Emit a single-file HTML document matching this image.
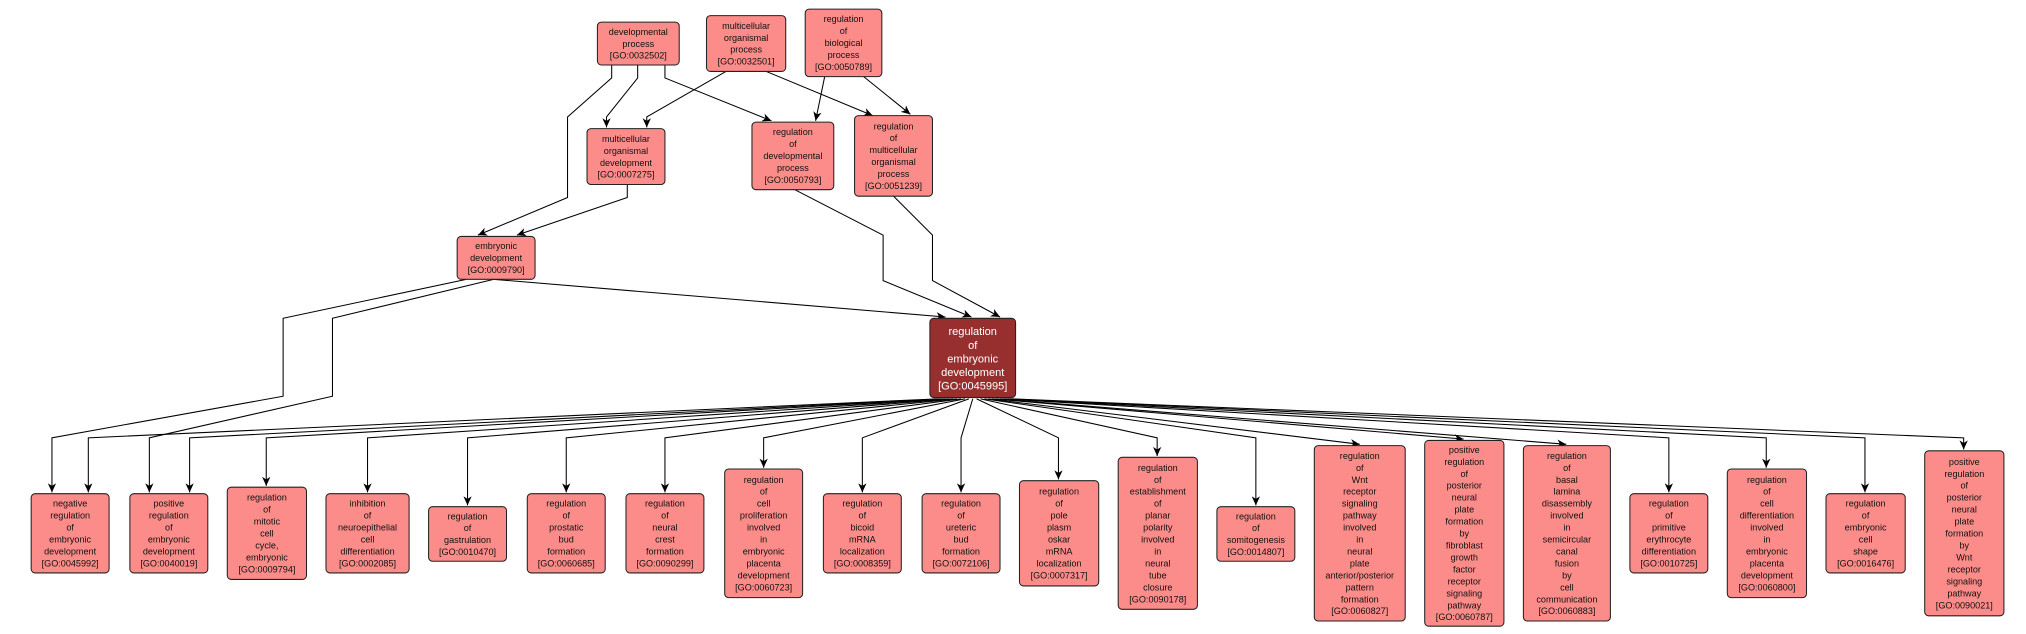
<!DOCTYPE html>
<html><head><meta charset="utf-8"><style>
html,body{margin:0;padding:0;background:#fff;}
svg{display:block;}
text{font-family:"Liberation Sans",sans-serif;font-size:7px;fill:#111;text-anchor:middle;}
.n{fill:#fb8c89;stroke:#222;stroke-width:0.8;}
.m{fill:#972f2f;stroke:#222;stroke-width:0.8;}
.e{fill:none;stroke:#000;stroke-width:0.8;marker-end:url(#a);}
</style></head><body>
<svg width="2026" height="634" viewBox="0 0 1560 488" preserveAspectRatio="none" xmlns="http://www.w3.org/2000/svg">
<defs><marker id="a" markerUnits="userSpaceOnUse" markerWidth="8" markerHeight="8" refX="7" refY="4" orient="auto"><path d="M0,0.8 L7,4 L0,7.2 L2,4 Z" fill="#000"/></marker></defs>

<!-- top edges -->
<path class="e" d="M471,50 L471,60 L437,90 L437,152 L368,181"/>
<path class="e" d="M491,50 L491,60 L467,90 L467,98"/>
<path class="e" d="M512,50 L512,60 L594,93"/>
<path class="e" d="M559,55 L498,90 L498,98"/>
<path class="e" d="M590,55 L672,89"/>
<path class="e" d="M635,59 L628,93"/>
<path class="e" d="M665,59 L701,88"/>
<path class="e" d="M483,142 L483,152 L398,181"/>
<path class="e" d="M612,146 L680,181 L680,216 L748,244"/>
<path class="e" d="M688,151 L718,181 L718,216 L770,244"/>
<path class="e" d="M380,215 L728,244"/>
<path class="e" d="M359,215 L218,245 L218,305 L40,337 L40,379"/>
<path class="e" d="M380,215 L256,245 L256,305 L115,337 L115,379"/>

<!-- main to bottom edges -->
<path class="e" d="M722,307 L68,337 L68,379"/>
<path class="e" d="M725,307 L146,337 L146,379"/>
<path class="e" d="M728,307 L205,337 L205,374"/>
<path class="e" d="M731,307 L283,337 L283,379"/>
<path class="e" d="M734,307 L360,337 L360,389"/>
<path class="e" d="M737,307 L436,337 L436,379"/>
<path class="e" d="M740,307 L512,337 L512,379"/>
<path class="e" d="M743,307 L588,337 L588,360"/>
<path class="e" d="M746,307 L664,337 L664,379"/>
<path class="e" d="M749,307 L740,337 L740,379"/>
<path class="e" d="M752,307 L815,337 L815,369"/>
<path class="e" d="M755,307 L891,337 L891,351"/>
<path class="e" d="M758,307 L967,337 L967,389"/>
<path class="e" d="M761,307 L1047,342"/>
<path class="e" d="M764,307 L1127,338"/>
<path class="e" d="M767,307 L1206,342"/>
<path class="e" d="M770,307 L1285,337 L1285,379"/>
<path class="e" d="M773,307 L1360,337 L1360,360"/>
<path class="e" d="M776,307 L1436,337 L1436,379"/>
<path class="e" d="M779,307 L1512,337 L1512,346"/>

<!-- top nodes -->
<rect class="n" x="460" y="17" width="63" height="33" rx="3"/>
<text y="26.8"><tspan x="491.5">developmental</tspan><tspan x="491.5" dy="9.2">process</tspan><tspan x="491.5" dy="9.2">[GO:0032502]</tspan></text>
<rect class="n" x="544" y="12" width="61" height="43" rx="3"/>
<text y="22.2"><tspan x="574.5">multicellular</tspan><tspan x="574.5" dy="9.2">organismal</tspan><tspan x="574.5" dy="9.2">process</tspan><tspan x="574.5" dy="9.2">[GO:0032501]</tspan></text>
<rect class="n" x="620" y="7" width="59" height="52" rx="3"/>
<text y="17.1"><tspan x="649.5">regulation</tspan><tspan x="649.5" dy="9.2">of</tspan><tspan x="649.5" dy="9.2">biological</tspan><tspan x="649.5" dy="9.2">process</tspan><tspan x="649.5" dy="9.2">[GO:0050789]</tspan></text>
<rect class="n" x="452" y="99" width="60" height="43" rx="3"/>
<text y="109.2"><tspan x="482">multicellular</tspan><tspan x="482" dy="9.2">organismal</tspan><tspan x="482" dy="9.2">development</tspan><tspan x="482" dy="9.2">[GO:0007275]</tspan></text>
<rect class="n" x="579" y="94" width="63" height="52" rx="3"/>
<text y="104.1"><tspan x="610.5">regulation</tspan><tspan x="610.5" dy="9.2">of</tspan><tspan x="610.5" dy="9.2">developmental</tspan><tspan x="610.5" dy="9.2">process</tspan><tspan x="610.5" dy="9.2">[GO:0050793]</tspan></text>
<rect class="n" x="658" y="89" width="60" height="62" rx="3"/>
<text y="99.5"><tspan x="688">regulation</tspan><tspan x="688" dy="9.2">of</tspan><tspan x="688" dy="9.2">multicellular</tspan><tspan x="688" dy="9.2">organismal</tspan><tspan x="688" dy="9.2">process</tspan><tspan x="688" dy="9.2">[GO:0051239]</tspan></text>
<rect class="n" x="352" y="182" width="60" height="33" rx="3"/>
<text y="191.8"><tspan x="382">embryonic</tspan><tspan x="382" dy="9.2">development</tspan><tspan x="382" dy="9.2">[GO:0009790]</tspan></text>
<rect class="m" x="716" y="245" width="66" height="61" rx="3"/>
<text y="258" style="font-size:8.5px;fill:#fff"><tspan x="749">regulation</tspan><tspan x="749" dy="10.5">of</tspan><tspan x="749" dy="10.5">embryonic</tspan><tspan x="749" dy="10.5">development</tspan><tspan x="749" dy="10.5">[GO:0045995]</tspan></text>

<!-- bottom nodes -->
<rect class="n" x="24" y="380" width="60" height="61" rx="3"/>
<text y="390"><tspan x="54">negative</tspan><tspan x="54" dy="9.2">regulation</tspan><tspan x="54" dy="9.2">of</tspan><tspan x="54" dy="9.2">embryonic</tspan><tspan x="54" dy="9.2">development</tspan><tspan x="54" dy="9.2">[GO:0045992]</tspan></text>
<rect class="n" x="100" y="380" width="60" height="61" rx="3"/>
<text y="390"><tspan x="130">positive</tspan><tspan x="130" dy="9.2">regulation</tspan><tspan x="130" dy="9.2">of</tspan><tspan x="130" dy="9.2">embryonic</tspan><tspan x="130" dy="9.2">development</tspan><tspan x="130" dy="9.2">[GO:0040019]</tspan></text>
<rect class="n" x="175" y="375" width="61" height="71" rx="3"/>
<text y="385.4"><tspan x="205.5">regulation</tspan><tspan x="205.5" dy="9.2">of</tspan><tspan x="205.5" dy="9.2">mitotic</tspan><tspan x="205.5" dy="9.2">cell</tspan><tspan x="205.5" dy="9.2">cycle,</tspan><tspan x="205.5" dy="9.2">embryonic</tspan><tspan x="205.5" dy="9.2">[GO:0009794]</tspan></text>
<rect class="n" x="251" y="380" width="64" height="61" rx="3"/>
<text y="390"><tspan x="283">inhibition</tspan><tspan x="283" dy="9.2">of</tspan><tspan x="283" dy="9.2">neuroepithelial</tspan><tspan x="283" dy="9.2">cell</tspan><tspan x="283" dy="9.2">differentiation</tspan><tspan x="283" dy="9.2">[GO:0002085]</tspan></text>
<rect class="n" x="330" y="390" width="60" height="42" rx="3"/>
<text y="399.7"><tspan x="360">regulation</tspan><tspan x="360" dy="9.2">of</tspan><tspan x="360" dy="9.2">gastrulation</tspan><tspan x="360" dy="9.2">[GO:0010470]</tspan></text>
<rect class="n" x="406" y="380" width="60" height="61" rx="3"/>
<text y="390"><tspan x="436">regulation</tspan><tspan x="436" dy="9.2">of</tspan><tspan x="436" dy="9.2">prostatic</tspan><tspan x="436" dy="9.2">bud</tspan><tspan x="436" dy="9.2">formation</tspan><tspan x="436" dy="9.2">[GO:0060685]</tspan></text>
<rect class="n" x="482" y="380" width="60" height="61" rx="3"/>
<text y="390"><tspan x="512">regulation</tspan><tspan x="512" dy="9.2">of</tspan><tspan x="512" dy="9.2">neural</tspan><tspan x="512" dy="9.2">crest</tspan><tspan x="512" dy="9.2">formation</tspan><tspan x="512" dy="9.2">[GO:0090299]</tspan></text>
<rect class="n" x="558" y="361" width="60" height="99" rx="3"/>
<text y="371.6"><tspan x="588">regulation</tspan><tspan x="588" dy="9.2">of</tspan><tspan x="588" dy="9.2">cell</tspan><tspan x="588" dy="9.2">proliferation</tspan><tspan x="588" dy="9.2">involved</tspan><tspan x="588" dy="9.2">in</tspan><tspan x="588" dy="9.2">embryonic</tspan><tspan x="588" dy="9.2">placenta</tspan><tspan x="588" dy="9.2">development</tspan><tspan x="588" dy="9.2">[GO:0060723]</tspan></text>
<rect class="n" x="634" y="380" width="60" height="61" rx="3"/>
<text y="390"><tspan x="664">regulation</tspan><tspan x="664" dy="9.2">of</tspan><tspan x="664" dy="9.2">bicoid</tspan><tspan x="664" dy="9.2">mRNA</tspan><tspan x="664" dy="9.2">localization</tspan><tspan x="664" dy="9.2">[GO:0008359]</tspan></text>
<rect class="n" x="710" y="380" width="60" height="61" rx="3"/>
<text y="390"><tspan x="740">regulation</tspan><tspan x="740" dy="9.2">of</tspan><tspan x="740" dy="9.2">ureteric</tspan><tspan x="740" dy="9.2">bud</tspan><tspan x="740" dy="9.2">formation</tspan><tspan x="740" dy="9.2">[GO:0072106]</tspan></text>
<rect class="n" x="785" y="370" width="61" height="81" rx="3"/>
<text y="380.8"><tspan x="815.5">regulation</tspan><tspan x="815.5" dy="9.2">of</tspan><tspan x="815.5" dy="9.2">pole</tspan><tspan x="815.5" dy="9.2">plasm</tspan><tspan x="815.5" dy="9.2">oskar</tspan><tspan x="815.5" dy="9.2">mRNA</tspan><tspan x="815.5" dy="9.2">localization</tspan><tspan x="815.5" dy="9.2">[GO:0007317]</tspan></text>
<rect class="n" x="861" y="352" width="61" height="117" rx="3"/>
<text y="362.4"><tspan x="891.5">regulation</tspan><tspan x="891.5" dy="9.2">of</tspan><tspan x="891.5" dy="9.2">establishment</tspan><tspan x="891.5" dy="9.2">of</tspan><tspan x="891.5" dy="9.2">planar</tspan><tspan x="891.5" dy="9.2">polarity</tspan><tspan x="891.5" dy="9.2">involved</tspan><tspan x="891.5" dy="9.2">in</tspan><tspan x="891.5" dy="9.2">neural</tspan><tspan x="891.5" dy="9.2">tube</tspan><tspan x="891.5" dy="9.2">closure</tspan><tspan x="891.5" dy="9.2">[GO:0090178]</tspan></text>
<rect class="n" x="937" y="390" width="60" height="42" rx="3"/>
<text y="399.7"><tspan x="967">regulation</tspan><tspan x="967" dy="9.2">of</tspan><tspan x="967" dy="9.2">somitogenesis</tspan><tspan x="967" dy="9.2">[GO:0014807]</tspan></text>
<rect class="n" x="1012" y="343" width="70" height="135" rx="3"/>
<text y="353.2"><tspan x="1047">regulation</tspan><tspan x="1047" dy="9.2">of</tspan><tspan x="1047" dy="9.2">Wnt</tspan><tspan x="1047" dy="9.2">receptor</tspan><tspan x="1047" dy="9.2">signaling</tspan><tspan x="1047" dy="9.2">pathway</tspan><tspan x="1047" dy="9.2">involved</tspan><tspan x="1047" dy="9.2">in</tspan><tspan x="1047" dy="9.2">neural</tspan><tspan x="1047" dy="9.2">plate</tspan><tspan x="1047" dy="9.2">anterior/posterior</tspan><tspan x="1047" dy="9.2">pattern</tspan><tspan x="1047" dy="9.2">formation</tspan><tspan x="1047" dy="9.2">[GO:0060827]</tspan></text>
<rect class="n" x="1097" y="339" width="61" height="143" rx="3"/>
<text y="348.6"><tspan x="1127.5">positive</tspan><tspan x="1127.5" dy="9.2">regulation</tspan><tspan x="1127.5" dy="9.2">of</tspan><tspan x="1127.5" dy="9.2">posterior</tspan><tspan x="1127.5" dy="9.2">neural</tspan><tspan x="1127.5" dy="9.2">plate</tspan><tspan x="1127.5" dy="9.2">formation</tspan><tspan x="1127.5" dy="9.2">by</tspan><tspan x="1127.5" dy="9.2">fibroblast</tspan><tspan x="1127.5" dy="9.2">growth</tspan><tspan x="1127.5" dy="9.2">factor</tspan><tspan x="1127.5" dy="9.2">receptor</tspan><tspan x="1127.5" dy="9.2">signaling</tspan><tspan x="1127.5" dy="9.2">pathway</tspan><tspan x="1127.5" dy="9.2">[GO:0060787]</tspan></text>
<rect class="n" x="1173" y="343" width="67" height="135" rx="3"/>
<text y="353.2"><tspan x="1206.5">regulation</tspan><tspan x="1206.5" dy="9.2">of</tspan><tspan x="1206.5" dy="9.2">basal</tspan><tspan x="1206.5" dy="9.2">lamina</tspan><tspan x="1206.5" dy="9.2">disassembly</tspan><tspan x="1206.5" dy="9.2">involved</tspan><tspan x="1206.5" dy="9.2">in</tspan><tspan x="1206.5" dy="9.2">semicircular</tspan><tspan x="1206.5" dy="9.2">canal</tspan><tspan x="1206.5" dy="9.2">fusion</tspan><tspan x="1206.5" dy="9.2">by</tspan><tspan x="1206.5" dy="9.2">cell</tspan><tspan x="1206.5" dy="9.2">communication</tspan><tspan x="1206.5" dy="9.2">[GO:0060883]</tspan></text>
<rect class="n" x="1255" y="380" width="60" height="61" rx="3"/>
<text y="390"><tspan x="1285">regulation</tspan><tspan x="1285" dy="9.2">of</tspan><tspan x="1285" dy="9.2">primitive</tspan><tspan x="1285" dy="9.2">erythrocyte</tspan><tspan x="1285" dy="9.2">differentiation</tspan><tspan x="1285" dy="9.2">[GO:0010725]</tspan></text>
<rect class="n" x="1330" y="361" width="61" height="99" rx="3"/>
<text y="371.6"><tspan x="1360.5">regulation</tspan><tspan x="1360.5" dy="9.2">of</tspan><tspan x="1360.5" dy="9.2">cell</tspan><tspan x="1360.5" dy="9.2">differentiation</tspan><tspan x="1360.5" dy="9.2">involved</tspan><tspan x="1360.5" dy="9.2">in</tspan><tspan x="1360.5" dy="9.2">embryonic</tspan><tspan x="1360.5" dy="9.2">placenta</tspan><tspan x="1360.5" dy="9.2">development</tspan><tspan x="1360.5" dy="9.2">[GO:0060800]</tspan></text>
<rect class="n" x="1406" y="380" width="61" height="61" rx="3"/>
<text y="390"><tspan x="1436.5">regulation</tspan><tspan x="1436.5" dy="9.2">of</tspan><tspan x="1436.5" dy="9.2">embryonic</tspan><tspan x="1436.5" dy="9.2">cell</tspan><tspan x="1436.5" dy="9.2">shape</tspan><tspan x="1436.5" dy="9.2">[GO:0016476]</tspan></text>
<rect class="n" x="1482" y="347" width="61" height="127" rx="3"/>
<text y="357.8"><tspan x="1512.5">positive</tspan><tspan x="1512.5" dy="9.2">regulation</tspan><tspan x="1512.5" dy="9.2">of</tspan><tspan x="1512.5" dy="9.2">posterior</tspan><tspan x="1512.5" dy="9.2">neural</tspan><tspan x="1512.5" dy="9.2">plate</tspan><tspan x="1512.5" dy="9.2">formation</tspan><tspan x="1512.5" dy="9.2">by</tspan><tspan x="1512.5" dy="9.2">Wnt</tspan><tspan x="1512.5" dy="9.2">receptor</tspan><tspan x="1512.5" dy="9.2">signaling</tspan><tspan x="1512.5" dy="9.2">pathway</tspan><tspan x="1512.5" dy="9.2">[GO:0090021]</tspan></text>
</svg>
</body></html>
